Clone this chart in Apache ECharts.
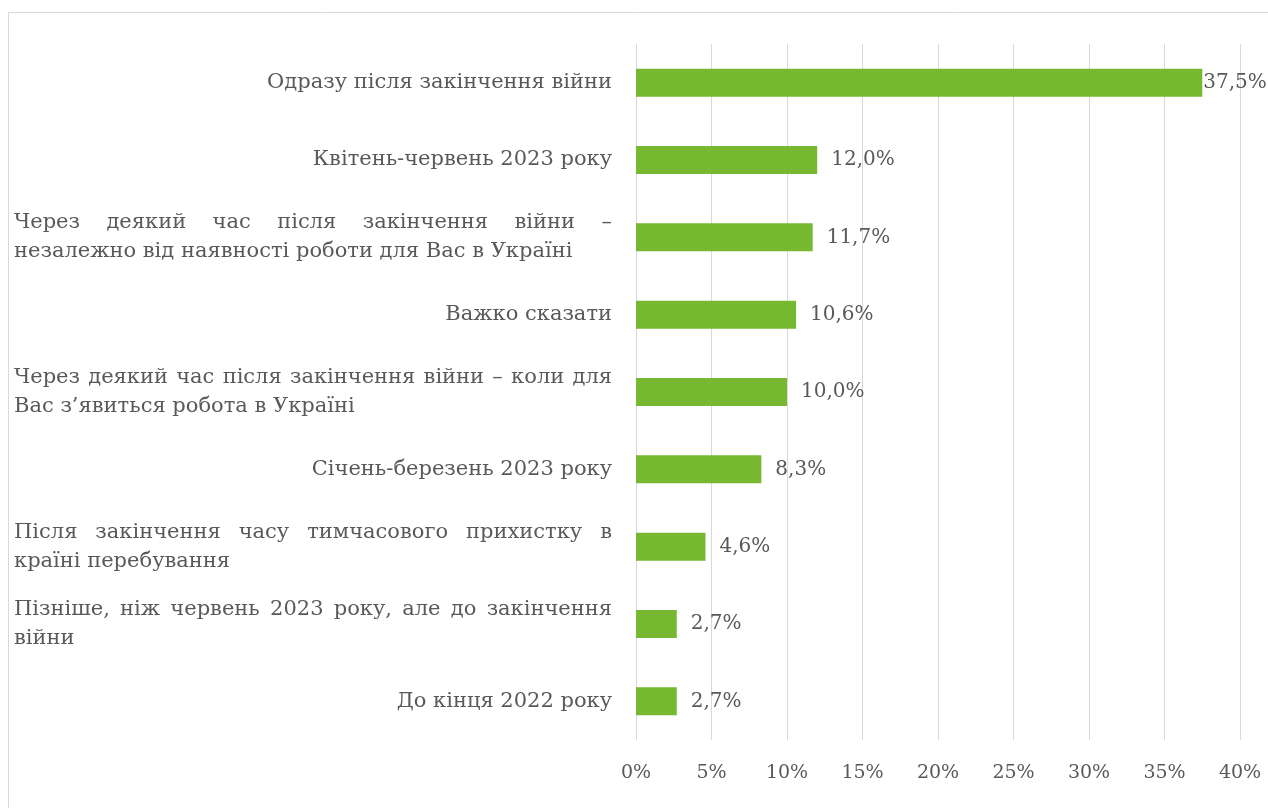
<!DOCTYPE html>
<html>
<head>
<meta charset="utf-8">
<script src="https://cdn.jsdelivr.net/npm/echarts@6/dist/echarts.min.js"></script>
<style>
  html, body { margin: 0; padding: 0; background: #fff; }
  #chart { width: 1268px; height: 808px; }
</style>
</head>
<body>
<div id="chart"></div>
<script>
// категорії (зверху вниз)
const categories = [
  'Одразу після закінчення війни',
  'Квітень-червень 2023 року',
  'Через деякий час після закінчення війни  –\nнезалежно від наявності роботи для Вас в Україні',
  'Важко сказати',
  'Через деякий час після закінчення війни  – коли для\nВас з’явиться робота в Україні',
  'Січень-березень 2023 року',
  'Після закінчення часу тимчасового прихистку в\nкраїні перебування',
  'Пізніше, ніж червень 2023 року, але до закінчення\nвійни',
  'До кінця 2022 року'
];
const values = [37.5, 12.0, 11.7, 10.6, 10.0, 8.3, 4.6, 2.7, 2.7];
const tickLabels = ['0%', '5%', '10%', '15%', '20%', '25%', '30%', '35%', '40%'];

const font = 'DejaVu Serif';
const textColor = '#595959';
const catSize = 21;
const blockWidth = 598;

// вирівнювання по ширині для перших рядків багаторядкових підписів
const ctx = document.createElement('canvas').getContext('2d');
ctx.font = catSize + 'px ' + font;
const rich = {
  l: { width: blockWidth, align: 'left', color: textColor, fontFamily: font, fontSize: catSize, lineHeight: 29 }
};
const labelText = {};
categories.forEach((c, ci) => {
  if (c.indexOf('\n') < 0) return;
  const lines = c.split('\n');
  labelText[c] = lines.map((line, li) => {
    if (li === lines.length - 1) return '{l|' + line + '}';
    const words = line.split(/\s+/);
    const widths = words.map(w => ctx.measureText(w).width);
    const total = widths.reduce((a, b) => a + b, 0);
    const gap = (blockWidth - total) / (words.length - 1);
    return words.map((w, wi) => {
      const key = 'j' + ci + '_' + li + '_' + wi;
      rich[key] = {
        width: wi === words.length - 1 ? widths[wi] : widths[wi] + gap,
        align: 'left', color: textColor, fontFamily: font, fontSize: catSize, lineHeight: 29
      };
      return '{' + key + '|' + w + '}';
    }).join('');
  }).join('\n');
});

let myChart = echarts.init(document.getElementById('chart'));
myChart.setOption({
  animation: false,
  graphic: [{
    type: 'rect',
    shape: { x: 8.5, y: 12.5, width: 1400, height: 1000 },
    style: { fill: 'none', stroke: '#d9d9d9', lineWidth: 1 },
    silent: true
  }],
  grid: { left: 636, right: 28, top: 44, bottom: 68 },
  xAxis: {
    type: 'value',
    min: 0,
    max: 40,
    interval: 5,
    axisLine: { show: false },
    axisTick: { show: false },
    splitLine: { lineStyle: { color: '#d9d9d9', width: 1 } },
    axisLabel: {
      margin: 24,
      color: textColor,
      fontFamily: font,
      fontSize: 19,
      formatter: (v) => tickLabels[Math.round(v / 5)]
    }
  },
  yAxis: {
    type: 'category',
    inverse: true,
    data: categories,
    axisLine: { show: false },
    axisTick: { show: false },
    axisLabel: {
      margin: 24,
      color: textColor,
      fontFamily: font,
      fontSize: catSize,
      lineHeight: 29,
      formatter: (v) => labelText[v] || v,
      rich: rich
    }
  },
  series: [{
    type: 'bar',
    barWidth: 28,
    data: values.map((v, i) => ({
      value: v,
      label: i === 0 ? { distance: 1 } : undefined
    })),
    itemStyle: { color: '#76b82f' },
    label: {
      show: true,
      position: 'right',
      distance: 14,
      color: textColor,
      fontFamily: font,
      fontSize: 20,
      formatter: (p) => p.value.toFixed(1).replace('.', ',') + '%'
    }
  }]
});
</script>
</body>
</html>
